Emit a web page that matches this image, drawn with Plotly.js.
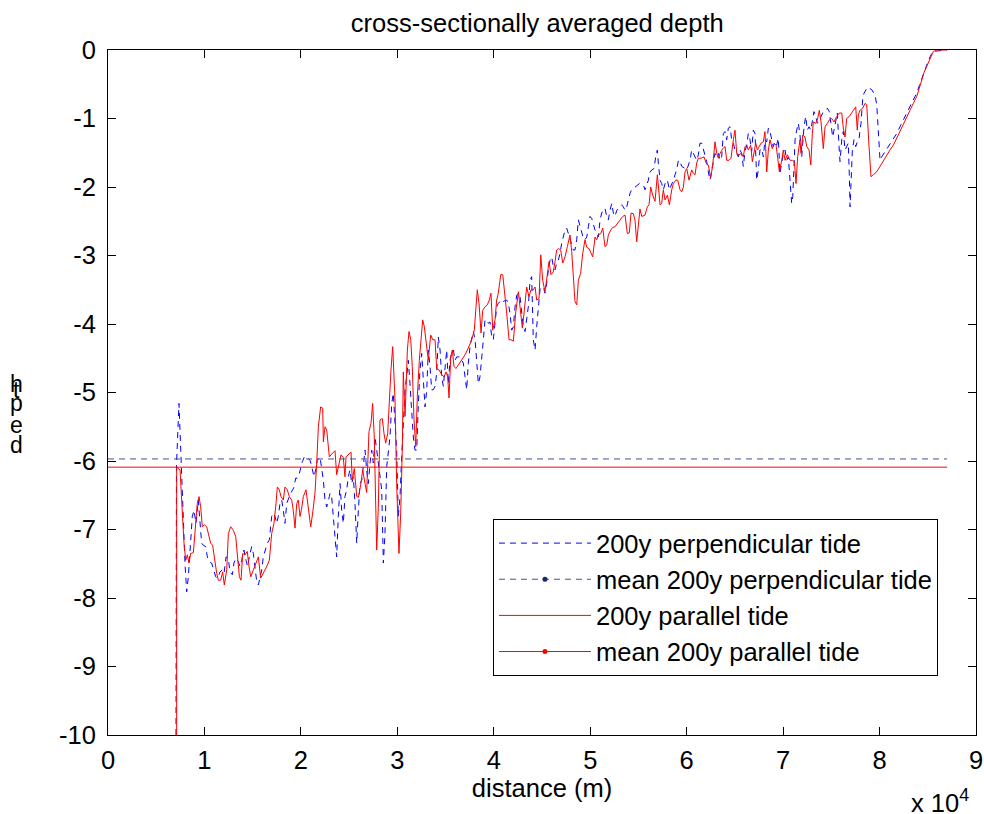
<!DOCTYPE html>
<html>
<head>
<meta charset="utf-8">
<script src="https://cdn.plot.ly/plotly-3.0.1.min.js"></script>
<style>html,body{margin:0;padding:0;background:#fff;}#chart{width:984px;height:814px;}</style>
</head>
<body>
<div id="chart"></div>
<script>
// ---- data (distance in m, depth in m) ----
var perpX = [7050,7100,7360,7570,7740,7980,8160,8330,8500,8740,8920,9120,9360,9540,9710,9880,10130,10300,10500,10750,10920,11170,11370,11610,11850,12030,12240,12470,12650,12890,13060,13270,13510,13690,13860,14100,14310,14480,14650,14900,15070,15240,15420,15590,15760,15940,16100,16280,16520,16730,16970,17140,17320,17490,17660,17830,18010,18180,18350,18530,18770,18940,19150,19290,19460,19630,19840,19980,20150,20360,20600,20770,20950,21120,21360,21540,21700,21980,22160,22330,22500,22680,22950,23020,23190,23360,23540,23710,23880,24060,24230,24400,24570,24750,24920,25090,25270,25440,25610,25790,25960,26130,26310,26470,26650,26820,26990,27170,27340,27510,27690,27860,28030,28200,28380,28550,28720,28900,29070,29240,29420,29580,29760,29930,30100,30280,30450,30620,30800,30970,31140,31310,31490,31660,31830,32010,32180,32350,32530,32700,32870,33050,33210,33390,33560,33730,33910,34080,34250,34430,34600,34770,34940,35120,35290,35460,35640,35810,35980,36160,36500,36680,36840,37020,37190,37360,37540,37710,37880,38060,38230,38400,38570,38750,38920,39090,39270,39440,39610,39790,39950,40130,40300,40470,40650,40820,40990,41340,41510,41680,41860,42030,42200,42380,42550,42720,42900,43060,43240,43410,43580,43760,43930,44100,44280,44450,44620,44790,44970,45140,45310,45490,45660,45830,46010,46170,46350,46520,46690,46870,47040,47210,47390,47560,47730,47900,48080,48250,48420,48600,48770,48940,49120,49290,49460,49640,49810,49980,50160,50320,50500,50670,50840,51020,51190,51360,51530,51710,51880,52050,52230,52400,52570,52750,52920,53090,53270,53430,53610,53780,53950,54130,54300,54470,54640,54820,55100,55510,55680,56030,56130,56380,56620,56820,56960,57060,57240,57410,57580,57830,58000,58210,58450,58620,58790,58970,59140,59310,59490,59660,59830,60010,60170,60350,60520,60690,60870,61040,61210,61380,61560,61730,61900,62080,62250,62420,62600,62770,62940,63120,63280,63460,63630,63800,63980,64150,64320,64500,64670,64840,65010,65190,65360,65530,65710,65870,66050,66230,66390,66570,66740,66910,67090,67260,67430,67600,67780,67950,68120,68300,68470,68640,68820,68980,69160,69330,69500,69680,69850,70020,70200,70370,70540,70720,70890,71000,71130,71240,71410,71580,71750,71930,72170,72340,72510,72690,72870,73030,73200,73380,73550,73760,73930,74170,74420,74590,74790,75040,75140,75280,75490,75620,75800,75900,76080,76240,76420,76590,76760,76860,76940,77040,77180,77350,77530,77690,77870,77970,78080,78250,78390,78600,78770,79190,79530,79710,79810,79910,80050,80220,80570,80910,81260,81780,82120,82470,82820,83160,83500,83850,84200,84540,84890,85240,85510,87000];
var perpY = [-10,-6.06,-5.16,-6.08,-6.57,-7.49,-7.91,-7.69,-7.30,-6.81,-6.72,-6.91,-6.57,-6.91,-7.20,-7.23,-7.25,-7.40,-7.47,-7.49,-7.57,-7.69,-7.71,-7.62,-7.59,-7.64,-7.40,-7.42,-7.62,-7.66,-7.49,-7.42,-7.47,-7.54,-7.45,-7.30,-7.45,-7.54,-7.40,-7.25,-7.35,-7.52,-7.76,-7.81,-7.69,-7.59,-7.40,-7.30,-7.20,-7.15,-6.81,-6.76,-6.81,-6.91,-6.81,-6.62,-6.57,-6.72,-6.91,-6.62,-6.52,-6.47,-6.42,-6.38,-6.25,-6.25,-6.18,-6.08,-6.01,-5.94,-5.94,-5.96,-5.99,-6.08,-6.23,-6.13,-5.99,-5.94,-6.13,-6.28,-6.57,-6.67,-6.52,-6.47,-6.52,-6.81,-7.06,-7.40,-6.81,-6.33,-6.72,-6.91,-6.52,-6.42,-6.23,-6.13,-6.33,-6.23,-6.62,-7.20,-6.72,-6.33,-6.28,-6.08,-5.84,-6.13,-6.33,-6.03,-5.84,-6.03,-5.65,-5.84,-6.03,-6.23,-6.42,-7.49,-7.06,-6.08,-5.84,-5.65,-5.16,-5.01,-5.45,-5.84,-6.81,-6.52,-5.94,-5.45,-4.96,-4.77,-4.53,-4.87,-5.35,-5.65,-5.84,-5.84,-5.16,-4.67,-4.43,-4.87,-5.21,-4.96,-4.38,-4.62,-4.96,-4.96,-4.91,-4.72,-4.19,-4.38,-4.77,-4.91,-4.67,-4.38,-4.87,-4.53,-4.43,-4.38,-4.53,-4.48,-4.48,-4.53,-4.57,-4.77,-4.96,-4.57,-4.33,-4.21,-4.11,-4.23,-4.57,-4.87,-4.77,-4.43,-4.23,-3.94,-3.94,-3.99,-3.97,-4.19,-4.23,-3.99,-3.75,-3.70,-3.67,-3.70,-3.67,-3.65,-3.70,-3.84,-4.09,-4.04,-3.75,-3.58,-3.55,-3.60,-3.80,-4.04,-4.11,-3.89,-3.75,-3.36,-3.31,-4.23,-4.38,-4.04,-3.75,-3.50,-3.46,-3.46,-3.55,-3.41,-3.21,-3.07,-3.02,-3.16,-3.21,-3.11,-3.07,-2.97,-2.82,-2.73,-2.63,-2.60,-2.68,-2.77,-2.87,-2.92,-2.92,-2.77,-2.48,-2.58,-2.68,-2.75,-2.77,-2.73,-2.58,-2.43,-2.46,-2.53,-2.63,-2.65,-2.73,-2.48,-2.38,-2.34,-2.31,-2.43,-2.48,-2.34,-2.24,-2.38,-2.43,-2.34,-2.31,-2.29,-2.26,-2.29,-2.34,-2.29,-2.19,-2.09,-2.04,-2.02,-2.00,-1.97,-1.95,-1.97,-2.04,-1.90,-1.80,-1.75,-1.73,-1.53,-1.46,-1.65,-1.90,-1.95,-2.04,-1.92,-1.90,-2.04,-1.97,-1.90,-1.82,-1.75,-1.61,-1.63,-1.70,-1.71,-1.73,-1.75,-1.68,-1.61,-1.46,-1.51,-1.56,-1.61,-1.53,-1.36,-1.36,-1.46,-1.56,-1.63,-1.78,-1.90,-1.75,-1.61,-1.51,-1.56,-1.51,-1.61,-1.56,-1.22,-1.19,-1.31,-1.14,-1.12,-1.31,-1.36,-1.46,-1.51,-1.56,-1.46,-1.51,-1.70,-1.48,-1.39,-1.22,-1.31,-1.48,-1.17,-1.22,-1.90,-1.75,-1.46,-1.44,-1.56,-1.31,-1.34,-1.14,-1.19,-1.31,-1.41,-1.34,-1.39,-1.29,-1.80,-1.65,-1.51,-1.46,-1.61,-1.56,-2.00,-2.24,-2.14,-1.65,-1.31,-1.17,-1.07,-1.24,-1.56,-1.12,-0.97,-1.17,-1.12,-1.17,-1.05,-0.90,-0.97,-1.07,-1.02,-0.97,-0.90,-0.88,-0.85,-0.90,-1.12,-1.27,-1.17,-1.02,-0.92,-1.41,-1.63,-1.31,-1.19,-1.46,-1.41,-1.36,-1.80,-2.29,-1.95,-1.46,-1.31,-1.41,-1.34,-1.31,-1.17,-1.07,-0.71,-0.63,-0.58,-0.54,-0.58,-0.66,-0.80,-1.02,-1.31,-1.61,-1.56,-1.48,-1.41,-1.34,-1.22,-1.12,-1.02,-0.92,-0.83,-0.73,-0.63,-0.49,-0.34,-0.22,-0.10,-0.02,0];

var paraX = [7120,7120,7470,7640,7880,8060,8230,8400,8570,8850,9020,9260,9440,9610,9780,9990,10230,10470,10650,10850,11090,11270,11440,11680,11890,12060,12310,12480,12720,12990,13240,13450,13620,13790,13970,14210,14440,14620,14800,15070,15310,15590,15830,16040,16280,16520,16730,16970,17210,17420,17560,17760,17940,18180,18350,18590,18800,19050,19210,19390,19570,19730,19910,20080,20250,20530,20770,21020,21220,21460,21640,21810,22050,22260,22330,22500,22680,22950,23190,23540,23710,23950,24160,24400,24570,24680,24920,25200,25330,25540,25790,25960,26200,26410,26650,26820,27060,27270,27440,27610,27860,28030,28200,28440,28620,28790,29000,29170,29340,29520,29760,29930,30170,30350,30520,30620,30800,30900,31040,31210,31390,31550,31730,31910,32070,32280,32460,32630,32800,32970,33210,33460,33670,33910,34080,34320,34600,34840,35050,35220,35360,35540,35700,35880,36080,36320,36680,37020,37360,37710,37980,38160,38290,38470,38570,38680,38850,39090,39330,39540,39710,39890,40130,40300,40470,40720,40930,41100,41340,41580,41790,42030,42270,42550,42720,42960,43170,43410,43650,43860,44100,44280,44450,44690,44870,45070,45310,45490,45730,45930,46170,46350,46520,46690,46940,47150,47390,47630,47900,48080,48250,48420,48600,48770,49010,49220,49460,49640,49880,50080,50260,50500,50670,50840,51090,51300,51530,51710,51880,52120,52330,52570,52850,53090,53370,53610,53850,54050,54230,54470,54640,54820,54990,55160,55340,55680,55920,56100,56270,56480,56720,56960,57240,57410,57580,57760,58000,58210,58450,58620,58870,59070,59310,59490,59660,59830,60010,60240,60520,60690,60870,61040,61210,61490,61800,62010,62250,62490,62700,62940,63120,63280,63460,63740,63980,64150,64390,64600,64840,65010,65190,65430,65640,65870,66050,66230,66390,66640,66810,66980,67160,67330,67530,67710,67950,68120,68300,68470,68640,68880,69060,69270,69440,69610,69860,70020,70200,70440,70720,70960,71170,71340,71510,71750,71860,72030,72270,72450,72690,72870,73030,73140,73380,73550,73760,73930,74170,74350,74590,74790,75040,75280,75560,75830,76080,76240,76420,76590,76860,77110,77350,77530,77690,77800,77970,78250,78490,78670,78910,79110,79350,79630,79870,80120,80390,80740,81080,81430,81780,82120,82470,82820,83160,83500,83850,84120,84370,84610,84890,85160,85410,85580,85930,86970];
var paraY = [-10,-6.09,-6.13,-6.57,-7.20,-7.45,-7.37,-7.49,-7.35,-7.34,-7.01,-6.62,-6.52,-6.67,-6.96,-6.93,-6.96,-7.10,-7.20,-7.23,-7.49,-7.64,-7.74,-7.74,-7.62,-7.81,-7.59,-7.06,-6.96,-7.01,-7.10,-7.45,-7.69,-7.74,-7.35,-7.37,-7.32,-7.54,-7.69,-7.59,-7.49,-7.40,-7.71,-7.66,-7.59,-7.52,-7.45,-7.06,-6.91,-6.62,-6.38,-6.42,-6.52,-6.57,-6.38,-6.42,-6.52,-6.57,-6.72,-6.98,-6.62,-6.57,-6.81,-6.69,-6.52,-6.42,-6.67,-6.96,-6.76,-6.47,-6.03,-5.50,-5.21,-5.23,-5.72,-5.50,-5.55,-5.94,-5.90,-5.85,-6.20,-6.03,-5.91,-5.95,-6.23,-5.94,-5.90,-5.87,-6.28,-6.11,-6.52,-6.53,-6.35,-6.13,-6.33,-6.46,-5.57,-5.45,-5.16,-5.65,-7.30,-6.67,-5.40,-5.38,-5.60,-5.74,-5.60,-5.06,-4.67,-4.33,-5.11,-6.33,-7.35,-6.76,-5.79,-4.70,-5.35,-4.96,-4.38,-4.11,-4.23,-4.62,-5.40,-5.79,-5.06,-4.53,-4.14,-3.94,-4.04,-4.28,-4.53,-4.16,-4.23,-4.23,-4.65,-4.67,-4.74,-4.77,-4.70,-4.77,-5.08,-4.48,-4.38,-4.62,-4.65,-4.60,-4.53,-4.45,-4.35,-4.23,-4.09,-3.80,-3.50,-3.70,-3.97,-4.13,-3.80,-3.75,-3.72,-3.65,-3.55,-4.09,-3.94,-3.65,-3.55,-3.28,-3.28,-3.50,-3.84,-4.23,-4.23,-4.25,-3.84,-3.53,-3.75,-4.06,-3.80,-3.46,-3.60,-3.50,-3.50,-3.46,-3.65,-3.63,-2.99,-3.36,-3.53,-3.31,-3.09,-3.28,-3.24,-3.09,-2.92,-2.90,-2.92,-3.11,-3.02,-2.87,-2.70,-2.94,-3.26,-3.67,-3.72,-3.36,-3.26,-2.97,-2.77,-2.88,-2.90,-2.97,-3.02,-2.73,-2.77,-2.70,-2.68,-2.60,-2.87,-2.85,-2.70,-2.63,-2.59,-2.58,-2.53,-2.48,-2.43,-2.41,-2.68,-2.67,-2.38,-2.39,-2.48,-2.80,-2.53,-2.32,-2.43,-2.41,-2.29,-2.26,-2.00,-2.12,-2.21,-1.82,-2.26,-2.24,-2.04,-2.19,-2.12,-2.26,-2.04,-1.95,-1.90,-1.90,-2.04,-2.07,-2.00,-1.78,-1.73,-1.90,-1.75,-1.80,-1.82,-1.65,-1.58,-1.58,-1.56,-1.65,-1.68,-1.87,-1.68,-1.34,-1.51,-1.58,-1.51,-1.44,-1.41,-1.61,-1.61,-1.58,-1.31,-1.17,-1.51,-1.53,-1.51,-1.56,-1.41,-1.39,-1.46,-1.39,-1.63,-1.51,-1.36,-1.46,-1.41,-1.36,-1.34,-1.19,-1.78,-1.46,-1.31,-1.44,-1.36,-1.39,-1.58,-1.78,-1.61,-1.46,-1.61,-1.53,-1.61,-1.61,-1.63,-1.95,-1.56,-1.31,-1.51,-1.24,-1.27,-1.41,-1.46,-1.68,-1.22,-1.05,-1.07,-1.02,-0.88,-1.05,-1.44,-1.12,-1.07,-1.02,-1.00,-1.05,-0.97,-0.92,-0.92,-1.14,-1.27,-1.00,-0.97,-0.92,-0.88,-0.83,-1.17,-0.95,-0.88,-0.85,-0.78,-0.80,-1.41,-1.85,-1.82,-1.79,-1.74,-1.68,-1.61,-1.53,-1.46,-1.39,-1.29,-1.19,-1.09,-1.00,-0.88,-0.78,-0.68,-0.56,-0.44,-0.33,-0.24,-0.15,-0.07,-0.02,0,0];

var meanX = [0, 87000];
var meanPerpY = [-5.97, -5.97];
var meanParaY = [-6.09, -6.09];

var xTickVals = [0,10000,20000,30000,40000,50000,60000,70000,80000,90000];
var xTickText = ['0','1','2','3','4','5','6','7','8','9'];
var yTickVals = [-10,-9,-8,-7,-6,-5,-4,-3,-2,-1,0];
var yTickText = ['-10','-9','-8','-7','-6','-5','-4','-3','-2','-1','0'];
var seriesNames = ['200y perpendicular tide','mean 200y perpendicular tide','200y parallel tide','mean 200y parallel tide'];
var yLabelLetters = ['h','t','p','e','d'];

// ---- chart ----
var FONT = 'Liberation Sans, Arial, sans-serif';
var FS = 25.5;
// mean traces: marker dot shown in the legend only (points unselected -> invisible in plot)
var hideMarks = {marker: {opacity: 0}};
var traces = [
  {x: perpX, y: perpY, name: seriesNames[0], mode: 'lines', type: 'scatter',
   line: {color: '#0000ff', width: 1, dash: '6px,5px'}},
  {x: meanX, y: meanPerpY, name: seriesNames[1], mode: 'lines+markers', type: 'scatter',
   line: {color: '#3d5590', width: 1, dash: '6px,5px'}, marker: {color: '#14286a', size: 5},
   selectedpoints: [], unselected: hideMarks},
  {x: paraX, y: paraY, name: seriesNames[2], mode: 'lines', type: 'scatter',
   line: {color: '#ff0000', width: 1}},
  {x: meanX, y: meanParaY, name: seriesNames[3], mode: 'lines+markers', type: 'scatter',
   line: {color: '#ff0000', width: 1}, marker: {color: '#ff0000', size: 5},
   selectedpoints: [], unselected: hideMarks}
];

var yLabelPos = [0.512, 0.504, 0.484, 0.453, 0.424];
var annotations = yLabelLetters.map(function(ch, i){
  return {text: ch, xref: 'paper', yref: 'paper', x: -0.105, y: yLabelPos[i],
    xanchor: 'center', yanchor: 'middle', showarrow: false,
    font: {family: FONT, size: 23, color: '#000'}};
});
annotations.push({text: 'x 10<sup>4</sup>', xref: 'paper', yref: 'paper', x: 0.994, y: -0.097,
  xanchor: 'right', yanchor: 'middle', showarrow: false,
  font: {family: FONT, size: FS, color: '#000'}});

var layout = {
  width: 984, height: 814,
  margin: {l: 108, r: 8, t: 50, b: 79, pad: 0},
  paper_bgcolor: '#ffffff', plot_bgcolor: '#ffffff',
  font: {family: FONT, size: FS, color: '#000'},
  title: {text: 'cross-sectionally averaged depth', font: {family: FONT, size: FS, color: '#000'},
    x: 0.546, xanchor: 'center', y: 0.972, yanchor: 'middle'},
  xaxis: {range: [0, 90000], tickvals: xTickVals, ticktext: xTickText,
    showgrid: false, zeroline: false, showline: true, linecolor: '#000', linewidth: 1,
    mirror: 'ticks', ticks: 'inside', ticklen: 8, tickcolor: '#000', ticklabelstandoff: 2,
    tickfont: {family: FONT, size: FS, color: '#000'},
    title: {text: 'distance (m)', font: {family: FONT, size: FS, color: '#000'}, standoff: 6}},
  yaxis: {range: [-10, 0], tickvals: yTickVals, ticktext: yTickText,
    showgrid: false, zeroline: false, showline: true, linecolor: '#000', linewidth: 1,
    mirror: 'ticks', ticks: 'inside', ticklen: 8, tickcolor: '#000', ticklabelstandoff: 6,
    tickfont: {family: FONT, size: FS, color: '#000'}},
  showlegend: true,
  legend: {x: 0.4435, y: 0.3153, xanchor: 'left', yanchor: 'top',
    bgcolor: '#ffffff', bordercolor: '#000', borderwidth: 1,
    font: {family: FONT, size: FS, color: '#000'}, itemwidth: 92, tracegroupgap: 0},
  annotations: annotations
};

Plotly.newPlot('chart', traces, layout, {displayModeBar: false, staticPlot: true});
</script>
</body>
</html>
